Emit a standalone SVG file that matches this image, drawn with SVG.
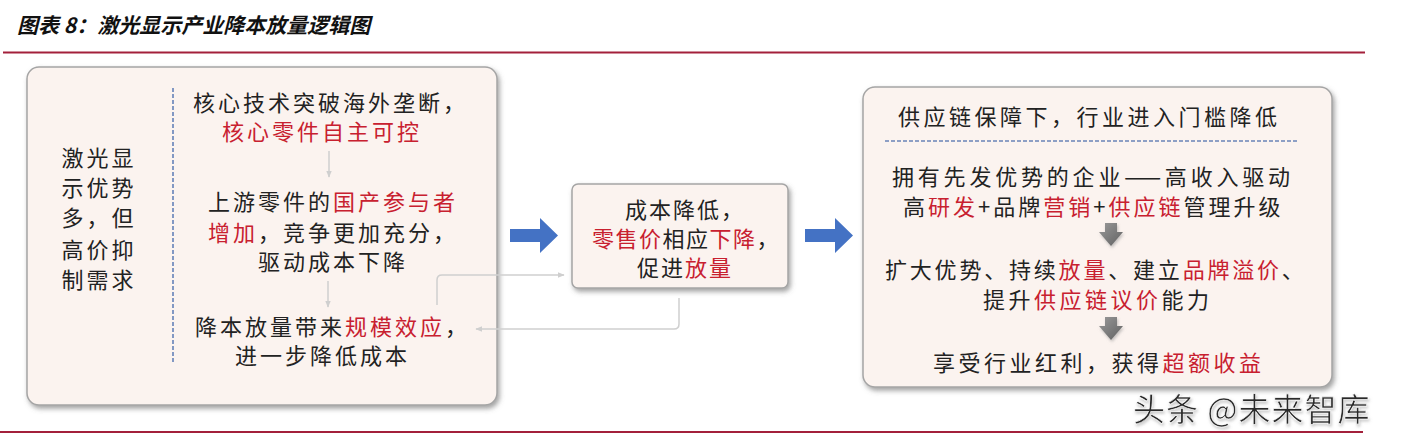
<svg xmlns="http://www.w3.org/2000/svg" width="1403" height="441" viewBox="0 0 1403 441">
<defs>
<style>
.t{font-family:"Noto Sans CJK SC","Noto Sans",sans-serif;font-size:22px;fill:#222;letter-spacing:3px}
.r{fill:#C8202F}
.box{fill:#FBF3EF;stroke:#A5A5A5;stroke-width:1.5}
.fb{fill:none;stroke:#CFCFCF;stroke-width:1.5}
.thin{fill:none;stroke:#CFCFCF;stroke-width:1.5}
.blue{fill:#4472C4}
.grey{fill:url(#gg)}
</style>
<filter id="sh" x="-5%" y="-5%" width="112%" height="115%">
<feDropShadow dx="2" dy="3" stdDeviation="2.5" flood-color="#666" flood-opacity="0.6"/>
</filter>
<filter id="sh2" x="-30%" y="-30%" width="160%" height="160%">
<feDropShadow dx="1" dy="2" stdDeviation="1.5" flood-color="#888" flood-opacity="0.5"/>
</filter>
<linearGradient id="gg" x1="0" y1="0" x2="1" y2="1">
<stop offset="0" stop-color="#9A9A9A"/>
<stop offset="1" stop-color="#606060"/>
</linearGradient>
<marker id="ah" viewBox="0 0 10 10" refX="9" refY="5" markerWidth="7" markerHeight="7" orient="auto" markerUnits="userSpaceOnUse">
<path d="M0,1 L10,5 L0,9 Z" fill="#CFCFCF"/>
</marker>
</defs>
<rect width="1403" height="441" fill="#FFFFFF"/>

<g id="title">
<text x="17" y="33" style="font-family:'Noto Sans CJK SC','Noto Sans',sans-serif;font-size:21px;font-weight:bold;font-style:italic;fill:#111">图表 8：激光显示产业降本放量逻辑图</text>
<line x1="3" y1="52.5" x2="1365" y2="52.5" stroke="#A3203B" stroke-width="2"/>
</g>

<g id="left-box">
<rect class="box" x="27" y="67" width="470" height="338" rx="12" filter="url(#sh)"/>
<text class="t" text-anchor="middle" x="99" y="166">激光显</text>
<text class="t" text-anchor="middle" x="99" y="196">示优势</text>
<text class="t" text-anchor="middle" x="99" y="226">多，但</text>
<text class="t" text-anchor="middle" x="99" y="258">高价抑</text>
<text class="t" text-anchor="middle" x="99" y="288">制需求</text>
<line x1="173" y1="88" x2="173" y2="363" stroke="#5B7BB5" stroke-width="1.5" stroke-dasharray="4,2"/>
<text class="t" x="193" y="111">核心技术突破海外垄断，</text>
<text class="t r" x="222" y="140">核心零件自主可控</text>
<line class="thin" x1="329" y1="151" x2="329" y2="177" marker-end="url(#ah)"/>
<text class="t" x="208" y="210">上游零件的<tspan class="r">国产参与者</tspan></text>
<text class="t" x="208" y="241"><tspan class="r">增加</tspan>，竞争更加充分，</text>
<text class="t" x="258" y="270">驱动成本下降</text>
<line class="thin" x1="328" y1="281" x2="328" y2="307" marker-end="url(#ah)"/>
<text class="t" x="195" y="335">降本放量带来<tspan class="r">规模效应</tspan>，</text>
<text class="t" x="235" y="364">进一步降低成本</text>
</g>

<g id="middle-box">
<rect class="box" x="572" y="184" width="216" height="104" rx="6" filter="url(#sh)"/>
<text class="t" x="625" y="218" style="letter-spacing:2px">成本降低，</text>
<text class="t" x="592" y="247" style="letter-spacing:1.5px"><tspan class="r">零售价</tspan>相应<tspan class="r">下降</tspan>，</text>
<text class="t" x="637" y="276" style="letter-spacing:2px">促进<tspan class="r">放量</tspan></text>
</g>

<g id="right-box">
<rect class="box" x="863" y="87" width="469" height="300" rx="12" filter="url(#sh)"/>
<text class="t" x="898" y="125" style="letter-spacing:3.5px">供应链保障下，行业进入门槛降低</text>
<line x1="885" y1="141" x2="1298" y2="141" stroke="#6A84B8" stroke-width="1.5" stroke-dasharray="4,2"/>
<text class="t" x="892" y="185" style="letter-spacing:3.8px">拥有先发优势的企业——高收入驱动</text>
<text class="t" x="903" y="215" style="letter-spacing:3px">高<tspan class="r">研发</tspan>+品牌<tspan class="r">营销</tspan>+<tspan class="r">供应链</tspan>管理升级</text>
<path class="grey" filter="url(#sh2)" d="M1105,223 H1117 V232 H1123 L1111,246 L1099,232 H1105 Z"/>
<text class="t" x="885" y="278" style="letter-spacing:2.8px">扩大优势、持续<tspan class="r">放量</tspan>、建立<tspan class="r">品牌溢价</tspan>、</text>
<text class="t" x="983" y="308" style="letter-spacing:3.5px">提升<tspan class="r">供应链议价</tspan>能力</text>
<path class="grey" filter="url(#sh2)" d="M1105,317 H1117 V326 H1123 L1111,340 L1099,326 H1105 Z"/>
<text class="t" x="933" y="371" style="letter-spacing:3.5px">享受行业红利，获得<tspan class="r">超额收益</tspan></text>
</g>

<g id="connectors">
<path class="blue" d="M510,229 H540 V218 L558,235.5 L540,253 V242 H510 Z"/>
<path class="blue" d="M805,229 H835 V218 L853,235.5 L835,253 V242 H805 Z"/>
<path class="fb" d="M437,305 V280 Q437,275 442,275 H564" marker-end="url(#ah)"/>
<path class="fb" d="M679,298 V324 Q679,329 674,329 H476" marker-end="url(#ah)"/>
</g>

<g id="footer">
<text x="1133" y="421" style="font-family:'Noto Sans CJK SC','Noto Sans',sans-serif;font-size:32px;fill:#2A2A2A;stroke:#FFFFFF;stroke-width:0.6;letter-spacing:1px" filter="url(#sh2)">头条 @未来智库</text>
<line x1="0" y1="432" x2="1363" y2="432" stroke="#A3203B" stroke-width="2"/>
</g>
</svg>
